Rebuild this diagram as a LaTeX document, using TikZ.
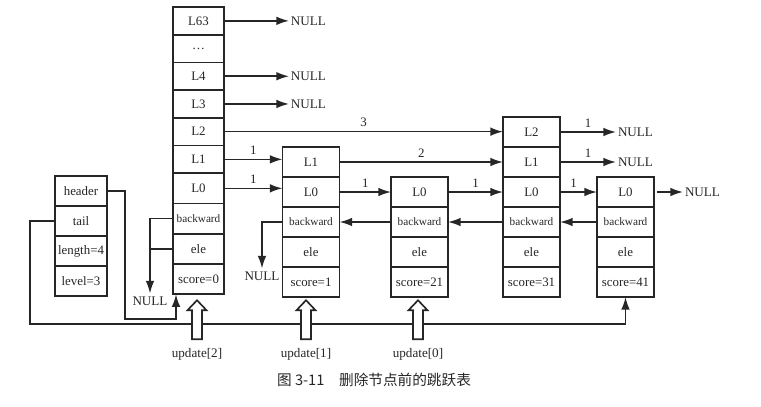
\documentclass[tikz,border=0pt]{standalone}
\usepackage{fontspec}
\setmainfont{Liberation Serif}
\newfontfamily\cjk{Noto Sans CJK SC}
\usetikzlibrary{positioning,arrows.meta}

\begin{document}
\begin{tikzpicture}[x=0.03cm,y=-0.03cm,line width=1.4pt,color=black!85,
    >={Latex[length=3.8mm,width=2.6mm]},
    cell/.style={draw,minimum width=1.71cm,minimum height=0.9cm,inner sep=0pt,outer sep=0pt,font=\fontsize{11}{12}\selectfont},
    bigcell/.style={cell,minimum width=1.53cm},
    lrow/.style={minimum height=0.831cm},
    frow/.style={minimum height=0.9075cm},
    bw/.style={font=\fontsize{9.6}{11}\selectfont},
    nul/.style={inner sep=1pt,font=\fontsize{11.2}{12}\selectfont},
    lab/.style={midway,above,font=\fontsize{11}{12}\selectfont}]
  \useasboundingbox (0,0) rectangle (761,406);
  %HEADER, TAIL, LENGTH, LEVEL
  \node[cell,minimum width=1.56cm] (hd) at (81,191) {header};
  \node[cell,minimum width=1.56cm,below=0pt of hd] (tl) {tail};
  \node[cell,minimum width=1.56cm,below=0pt of tl] (len) {length=4};
  \node[cell,minimum width=1.56cm,below=0pt of len] (lev) {level=3};
  %HEAD NODE
  \node[bigcell,lrow] (a63) at (198.5,20.85) {L63};
  \node[bigcell,lrow,below=0pt of a63] (adots) {\dots};
  \node[bigcell,lrow,below=0pt of adots] (a4) {L4};
  \node[bigcell,lrow,below=0pt of a4] (a3) {L3};
  \node[bigcell,lrow,below=0pt of a3] (a2) {L2};
  \node[bigcell,lrow,below=0pt of a2] (a1) {L1};
  \node[bigcell,frow,below=0pt of a1] (a0) {L0};
  \node[bigcell,frow,bw,below=0pt of a0] (abw) {backward};
  \node[bigcell,frow,below=0pt of abw] (aele) {ele};
  \node[bigcell,frow,below=0pt of aele] (asc) {score=0};
  %SCORE=1
  \node[cell] (b1) at (311,162) {L1};
  \node[cell,below=0pt of b1] (b0) {L0};
  \node[cell,bw,below=0pt of b0] (bbw) {backward};
  \node[cell,below=0pt of bbw] (bele) {ele};
  \node[cell,below=0pt of bele] (bsc) {score=1};
  %SCORE=21
  \node[cell] (c0) at (419.5,192) {L0};
  \node[cell,bw,below=0pt of c0] (cbw) {backward};
  \node[cell,below=0pt of cbw] (cele) {ele};
  \node[cell,below=0pt of cele] (csc) {score=21};
  %SCORE=31
  \node[cell] (d2) at (531.5,132) {L2};
  \node[cell,below=0pt of d2] (d1) {L1};
  \node[cell,below=0pt of d1] (d0) {L0};
  \node[cell,bw,below=0pt of d0] (dbw) {backward};
  \node[cell,below=0pt of dbw] (dele) {ele};
  \node[cell,below=0pt of dele] (dsc) {score=31};
  %SCORE=41
  \node[cell] (e0) at (625.5,192) {L0};
  \node[cell,bw,below=0pt of e0] (ebw) {backward};
  \node[cell,below=0pt of ebw] (eele) {ele};
  \node[cell,below=0pt of eele] (esc) {score=41};

  %NULL
  \node[nul,right=1.95cm of a63] (n63) {NULL};
  \node[nul,right=1.95cm of a4] (n4) {NULL};
  \node[nul,right=1.95cm of a3] (n3) {NULL};
  \node[nul,right=1.68cm of d2] (nd2) {NULL};
  \node[nul,right=1.68cm of d1] (nd1) {NULL};
  \node[nul,right=0.87cm of e0] (ne0) {NULL};
  \node[nul,inner sep=2pt] (anull) at (150,301) {NULL};
  \node[nul,inner sep=2pt] (bnull) at (262,276) {NULL};

  %FORWARD
  \draw[->] (a63) -- (n63);
  \draw[->] (a4) -- (n4);
  \draw[->] (a3) -- (n3);
  \draw[->] (a2.east) -- (a2.east -| d2.west) node[lab] {3};
  \draw[->] (a1.east) -- (a1.east -| b1.west) node[lab] {1};
  \draw[->] (a0.east) -- (a0.east -| b0.west) node[lab] {1};
  \draw[->] (b1.east) -- (b1.east -| d1.west) node[lab] {2};
  \draw[->] (b0.east) -- (b0.east -| c0.west) node[lab] {1};
  \draw[->] (c0.east) -- (c0.east -| d0.west) node[lab] {1};
  \draw[->] (d2) -- (nd2) node[lab] {1};
  \draw[->] (d1) -- (nd1) node[lab] {1};
  \draw[->] (d0) -- (e0) node[lab,xshift=-0.15cm] {1};
  \draw[->] ([xshift=0.09cm]e0.east) -- (ne0);

  %BACKWARD
  \draw[->] (ebw.west) -- (ebw.west -| dbw.east);
  \draw[->] (dbw.west) -- (dbw.west -| cbw.east);
  \draw[->] (cbw.west) -- (cbw.west -| bbw.east);
  \draw[->] (bbw.west) -| (bnull.north);
  \draw[->] (abw.west) -| (anull.north);
  \draw (aele.west) -- (aele.west -| anull.north);

  %HEADER AND TAIL
  \draw[->] (hd.east) -- ++(18,0) -- ++(0,128) -| ([xshift=0.09cm]asc.south west);
  \draw[->] (tl.west) -- ++(-25,0) -- ++(0,103) -| (esc.south);

  %UPDATE
  \node[inner sep=0pt,font=\fontsize{11.2}{12}\selectfont] (u2) at (197,354) {update[2]};
  \node[inner sep=0pt,font=\fontsize{11.2}{12}\selectfont] (u1) at (306,354) {update[1]};
  \node[inner sep=0pt,font=\fontsize{11.2}{12}\selectfont] (u0) at (418,354) {update[0]};
  \foreach \u in {u2,u1,u0}
    \draw[fill=white] (\u.north) ++(-5,-8) -- ++(0,-29) -- ++(-4.5,0) -- ++(9.5,-10)
      -- ++(9.5,10) -- ++(-4.5,0) -- ++(0,29) -- cycle;

  %CAPTION
  \node[font=\cjk\fontsize{12.5}{15}\selectfont] (cap) at (374,380) {图 3-11\quad 删除节点前的跳跃表};
\end{tikzpicture}
\end{document}
